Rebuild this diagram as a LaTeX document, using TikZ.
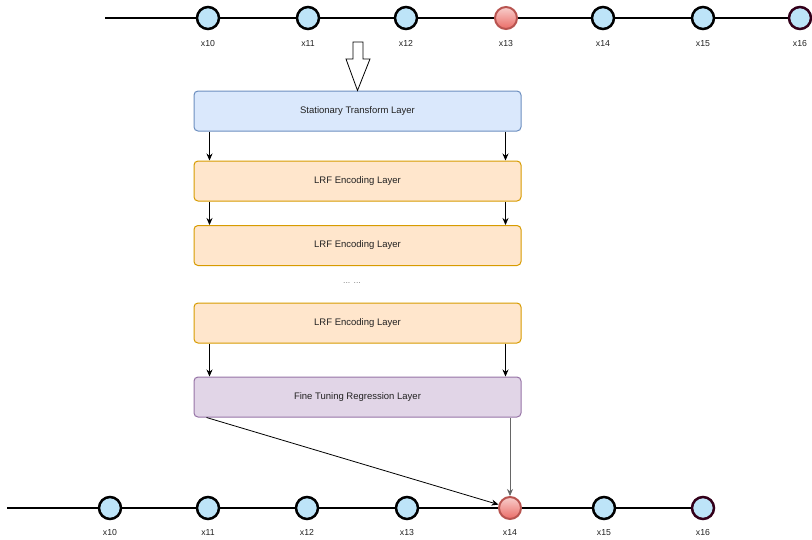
\documentclass[tikz,border=0pt]{standalone}
\usepackage{fontspec}
\setmainfont{Liberation Sans}
\usetikzlibrary{arrows.meta,positioning}
\definecolor{bluefill}{HTML}{DAE8FC}
\definecolor{bluedraw}{HTML}{6C8EBF}
\definecolor{orangefill}{HTML}{FFE6CC}
\definecolor{orangedraw}{HTML}{D79B00}
\definecolor{purplefill}{HTML}{E1D5E7}
\definecolor{purpledraw}{HTML}{9673A6}
\definecolor{dotfill}{HTML}{BDE4F8}
\definecolor{redtop}{HTML}{F8CECC}
\definecolor{redbot}{HTML}{EA6B66}
\definecolor{reddraw}{HTML}{B85450}
\definecolor{lastdraw}{HTML}{33001A}
\definecolor{txt}{HTML}{222222}
\tikzset{
  layer/.style={rounded corners=4pt,minimum width=327pt,minimum height=40pt,
    font=\fontsize{9.5}{11}\selectfont,text=txt,line width=1pt},
  stationary/.style={layer,fill=bluefill,draw=bluedraw},
  lrf/.style={layer,fill=orangefill,draw=orangedraw},
  tuning/.style={layer,fill=purplefill,draw=purpledraw},
  point/.style={circle,minimum size=22pt,inner sep=0pt,line width=2.5pt,draw=black,fill=dotfill},
  target/.style={point,draw=reddraw,line width=2pt,top color=redtop,bottom color=redbot},
  last/.style={point,draw=lastdraw},
  tick/.style={font=\fontsize{8.7}{10}\selectfont,text=txt,anchor=base},
  flow/.style={-{Stealth[length=7pt,width=6pt]},line width=.8pt},
}
\begin{document}
\begin{tikzpicture}[x=1pt,y=-1pt]
  \useasboundingbox (0,0) rectangle (812,539);
  % input series
  \coordinate (tstart) at (105,18);
  \coordinate (tend) at (812,18);
  \draw[line width=2.5pt] (tstart) -- (tend);
  \foreach \i/\x/\s in {10/208/point,11/308/point,12/406/point,13/506/target,14/603/point,15/703/point,16/800/last}{
    \node[\s] (t\i) at (\x,18) {};
    \node[tick] at (\x,46) {x\i};
  }
  % output series
  \coordinate (bstart) at (7,508);
  \coordinate (bend) at (703,508);
  \draw[line width=2.5pt] (bstart) -- (bend);
  \foreach \i/\x/\s in {10/110/point,11/208/point,12/307/point,13/407/point,14/510/target,15/604/point,16/703/last}{
    \node[\s] (b\i) at (\x,508) {};
    \node[tick] at (\x,535) {x\i};
  }
  % layers
  \node[stationary] (stl) at (357.5,111) {Stationary Transform Layer};
  \node[lrf] (lrfa) at (357.5,181) {LRF Encoding Layer};
  \node[lrf] (lrfb) at (357.5,245.5) {LRF Encoding Layer};
  \node[tick,text=gray] (dots) at (352,283) {... ...};
  \node[lrf] (lrfc) at (357.5,323) {LRF Encoding Layer};
  \node[tuning] (fine) at (357.5,397) {Fine Tuning Regression Layer};
  % hollow input arrow
  \draw[line width=.8pt,fill=white] (353,42) -- (363,42) -- (363,59) -- (370,59)
    -- (stl.north) -- (346,59) -- (353,59) -- cycle;
  % layer to layer
  \foreach \a/\b in {stl/lrfa,lrfa/lrfb,lrfc/fine}{
    \draw[flow] ([xshift=16pt]\a.south west) -- ([xshift=16pt]\b.north west);
    \draw[flow] ([xshift=-16pt]\a.south east) -- ([xshift=-16pt]\b.north east);
  }
  % regression output
  \draw[flow] ([xshift=13pt]fine.south west) -- (b14);
  \draw[flow,draw=black!60] (fine.south -| b14) -- (b14.north);
\end{tikzpicture}
\end{document}
